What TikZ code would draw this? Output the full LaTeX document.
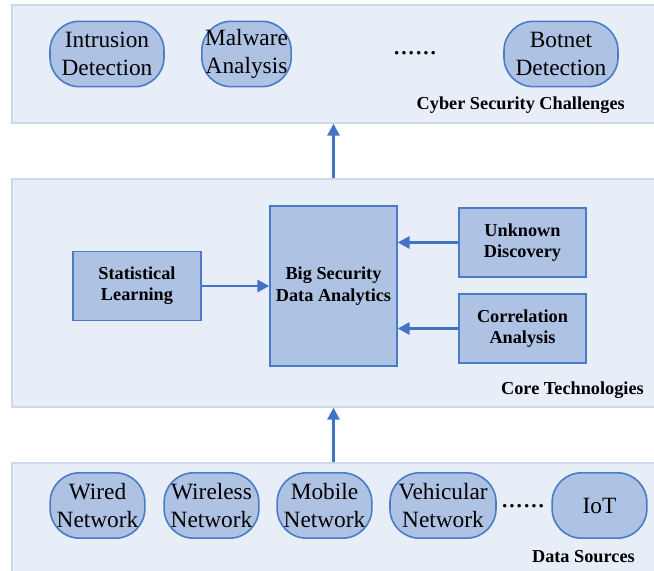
\documentclass[tikz,border=0pt]{standalone}
\usepackage{fontspec}
\setmainfont{Liberation Serif}
\usetikzlibrary{arrows.meta}

\definecolor{panelfill}{RGB}{232,238,248}
\definecolor{paneldraw}{RGB}{203,216,238}
\definecolor{boxfill}{RGB}{174,194,228}
\definecolor{boxdraw}{RGB}{74,124,198}
\definecolor{arrowblue}{RGB}{68,114,196}

\tikzset{
  panel/.style={draw=paneldraw, fill=panelfill, line width=1pt, inner sep=0pt},
  techbox/.style={draw=boxdraw, fill=boxfill, line width=1.2pt, inner sep=0pt, align=center, font=\bfseries\fontsize{13.7}{16}\selectfont},
  topic/.style={draw=boxdraw, fill=boxfill, line width=1.2pt, rounded corners=22pt, inner sep=0pt, minimum height=49pt, align=center, font=\fontsize{17.5}{21}\selectfont},
  layer/.style={anchor=east, inner sep=0pt, font=\bfseries\fontsize{13.7}{16}\selectfont},
  flow/.style={draw=arrowblue, line width=2.2pt, -{Triangle[length=9pt,width=9pt]}},
  etc/.style={anchor=base, inner sep=0pt, font=\fontsize{22}{22}\selectfont}
}

\begin{document}
\begin{tikzpicture}[x=0.75pt,y=0.75pt,yscale=-1]
\useasboundingbox (0,0) rectangle (654,571);

%Layers
\node[panel, minimum width=487.5pt, minimum height=88.5pt] (challenges) at (337,64) {};
\node[panel, minimum width=487.5pt, minimum height=171pt] (core) at (337,293) {};
\node[panel, minimum width=487.5pt, minimum height=88pt] (sources) at (337,521.5) {};

%Cyber security challenges
\node[topic, minimum width=85.5pt] (intrusion) at (107,54) {Intrusion\\Detection};
\node[topic, minimum width=67pt] (malware) at (246.5,54) {Malware\\Analysis};
\node[etc] (topdots) at (415,54) {......};
\node[topic, minimum width=85.5pt] (botnet) at (561,54) {Botnet\\Detection};
\node[layer] (challengeslabel) at (625,105) {Cyber Security Challenges};

%Core technologies
\node[techbox, minimum width=96pt, minimum height=52pt] (stat) at (137,286) {Statistical\\Learning};
\node[techbox, minimum width=95pt, minimum height=120pt] (bsda) at (333.5,286) {Big Security\\Data Analytics};
\node[techbox, minimum width=95pt, minimum height=52pt] (unknown) at (522.5,242.5) {Unknown\\Discovery};
\node[techbox, minimum width=95pt, minimum height=52pt] (corr) at (522.5,328.5) {Correlation\\Analysis};
\node[layer] (corelabel) at (644,390) {Core Technologies};

%Data sources
\node[topic, minimum width=71pt] (wired) at (97.5,505.5) {Wired\\Network};
\node[topic, minimum width=71pt] (wireless) at (211.5,505.5) {Wireless\\Network};
\node[topic, minimum width=71pt] (mobile) at (324.5,505.5) {Mobile\\Network};
\node[topic, minimum width=79.5pt] (vehicular) at (443,505.5) {Vehicular\\Network};
\node[etc] (bottomdots) at (523,507) {......};
\node[topic, minimum width=71pt] (iot) at (599.5,505.5) {IoT};
\node[layer] (sourceslabel) at (635,557) {Data Sources};

%Arrows
\draw[flow] (stat.east) -- (stat.east -| bsda.west);
\draw[flow] (unknown.west) -- (unknown.west -| bsda.east);
\draw[flow] (corr.west) -- (corr.west -| bsda.east);
\draw[flow] (bsda.north |- core.north) -- (bsda.north |- challenges.south);
\draw[flow] (bsda.south |- sources.north) -- (bsda.south |- core.south);

\end{tikzpicture}
\end{document}
